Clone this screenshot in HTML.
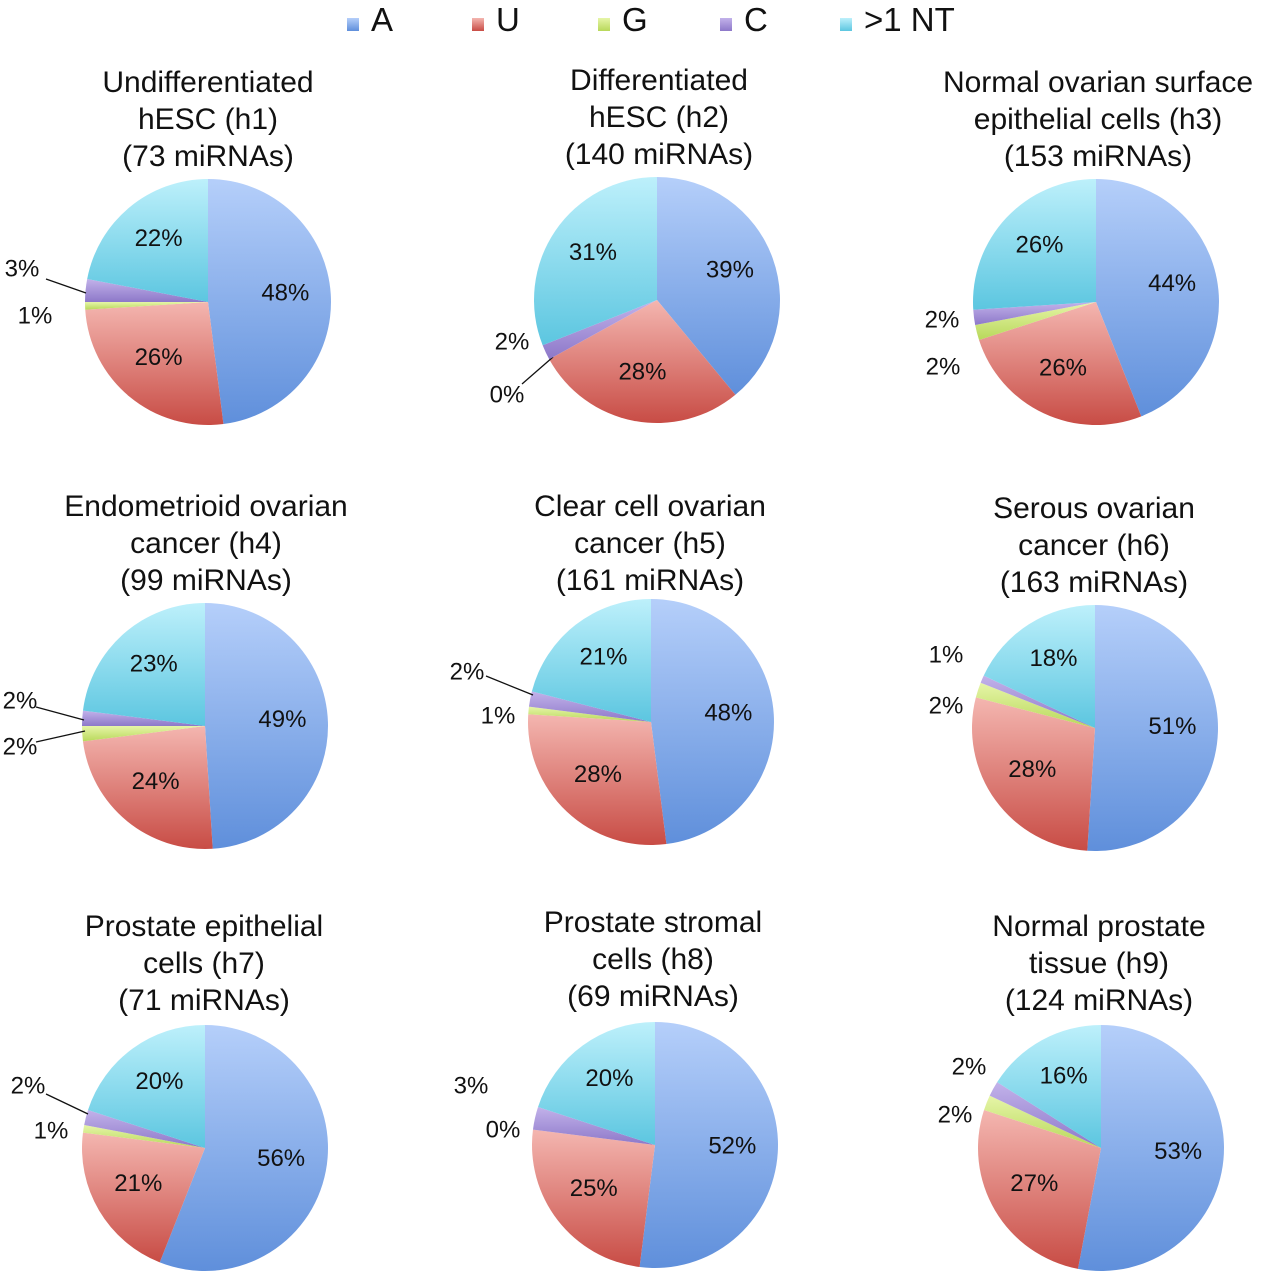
<!DOCTYPE html>
<html><head><meta charset="utf-8"><style>
body{margin:0;background:#fff;}
svg{display:block;font-family:"Liberation Sans",sans-serif;}
.ttl{font-size:30px;fill:#111;text-anchor:middle;}
.lbl{font-size:24px;fill:#111;text-anchor:middle;dominant-baseline:central;}
</style></head><body>
<svg id="chart" width="1262" height="1280" viewBox="0 0 1262 1280">
<defs>
<linearGradient id="gA" x1="0" y1="0" x2="0" y2="1"><stop offset="0" stop-color="#b5cffa"/><stop offset="1" stop-color="#5f8fdb"/></linearGradient>
<linearGradient id="gU" x1="0" y1="0" x2="0" y2="1"><stop offset="0" stop-color="#f4b6b0"/><stop offset="1" stop-color="#c84c45"/></linearGradient>
<linearGradient id="gG" x1="0" y1="0" x2="0" y2="1"><stop offset="0" stop-color="#e6f5a8"/><stop offset="1" stop-color="#b8d85a"/></linearGradient>
<linearGradient id="gC" x1="0" y1="0" x2="0" y2="1"><stop offset="0" stop-color="#c2b2ea"/><stop offset="1" stop-color="#8d78c9"/></linearGradient>
<linearGradient id="gN" x1="0" y1="0" x2="0" y2="1"><stop offset="0" stop-color="#bdf0fb"/><stop offset="1" stop-color="#5cc6e0"/></linearGradient>
</defs>
</svg>
<script>
const categories = ["A","U","G","C",">1 NT"];
const h1 = [48,26,1,3,22];
const h2 = [39,28,0,2,31];
const h3 = [44,26,2,2,26];
const h4 = [49,24,2,2,23];
const h5 = [48,28,1,2,21];
const h6 = [51,28,2,1,18];
const h7 = [56,21,1,2,20];
const h8 = [52,25,0,3,20];
const h9 = [53,27,2,2,16];
const seriesValues = [h1,h2,h3,h4,h5,h6,h7,h8,h9];
const titles = [
 ["Undifferentiated","hESC (h1)","(73 miRNAs)"],
 ["Differentiated","hESC (h2)","(140 miRNAs)"],
 ["Normal ovarian surface","epithelial cells (h3)","(153 miRNAs)"],
 ["Endometrioid ovarian","cancer (h4)","(99 miRNAs)"],
 ["Clear cell ovarian","cancer (h5)","(161 miRNAs)"],
 ["Serous ovarian","cancer (h6)","(163 miRNAs)"],
 ["Prostate epithelial","cells (h7)","(71 miRNAs)"],
 ["Prostate stromal","cells (h8)","(69 miRNAs)"],
 ["Normal prostate","tissue (h9)","(124 miRNAs)"]
];
// layout (not data)
const centers = [[208,302],[657,300],[1096,302],[205,726],[651,722],[1095,728],[205,1148],[655,1145],[1101,1148]];
const titleY = [82,80,82,506,506,508,926,922,926];
const titleX = [208,659,1098,206,650,1094,204,653,1099];
const R = 123;
const outside = [
 [35,316,22,269,null,[46,279,86,293]],
 [507,395,512,342,[522,384,553,357],null],
 [943,367,942,320,null,null],
 [20,747,20,701,[36,742,85,731],[36,707,84,720]],
 [498,716,467,672,null,[486,676,533,695]],
 [946,706,946,655,null,null],
 [51,1131,28,1086,null,[46,1094,88,1114]],
 [503,1130,471,1086,null,null],
 [955,1115,969,1067,null,null]
];
const fills = ["url(#gA)","url(#gU)","url(#gG)","url(#gC)","url(#gN)"];
const ns = "http://www.w3.org/2000/svg";
const svg = document.getElementById('chart');
function mk(tag, attrs, parent){const e=document.createElementNS(ns,tag);for(const k in attrs)e.setAttribute(k,attrs[k]);(parent||svg).appendChild(e);return e;}
function angleScale(v,total){return v/total*2*Math.PI;}
function pt(cx,cy,r,a){return [cx+r*Math.sin(a), cy-r*Math.cos(a)];}

const legX=[347,472,598,720,840];
categories.forEach((c,i)=>{
  const g=mk('g',{});
  
  
  mk('rect',{x:legX[i],y:18,width:12,height:13,fill:fills[i]},g);
  const t=mk('text',{x:legX[i]+24,y:31,'font-size':33,fill:'#111'},g);
  t.textContent=c;
});

seriesValues.forEach((vals,k)=>{
  const [cx,cy]=centers[k];
  const g=mk('g',{});
  
  
  const tt=mk('text',{class:'ttl',y:titleY[k]+10},g);
  
  
  titles[k].forEach((line,j)=>{const s=mk('tspan',{x:titleX[k],y:titleY[k]+10+j*37},tt);s.textContent=line;});
  const total=vals.reduce((a,b)=>a+b,0);
  let a0=0;
  vals.forEach((v,i)=>{
    const da=angleScale(v,total);
    const a1=a0+da;
    if(v>0){
      const p0=pt(cx,cy,R,a0),p1=pt(cx,cy,R,a1);
      const large=da>Math.PI?1:0;
      const p=mk('path',{d:`M${cx},${cy}L${p0[0]},${p0[1]}A${R},${R} 0 ${large} 1 ${p1[0]},${p1[1]}Z`,fill:fills[i]},g);
      
      
    }
    let lx,ly;
    if(i===2||i===3){
      const o=outside[k];
      lx=i===2?o[0]:o[2]; ly=i===2?o[1]:o[3];
      const ln=i===2?o[4]:o[5];
      if(ln){const l=mk('line',{x1:ln[0],y1:ln[1],x2:ln[2],y2:ln[3],stroke:'#111','stroke-width':1.3},g);
        
        }
    } else {
      const m=pt(cx,cy,R*0.63,(a0+a1)/2); lx=m[0]; ly=m[1]-4;
    }
    const t=mk('text',{class:'lbl',x:lx,y:ly},g);
    
    
    t.textContent=v+'%';
    a0=a1;
  });
});
</script>
</body></html>
